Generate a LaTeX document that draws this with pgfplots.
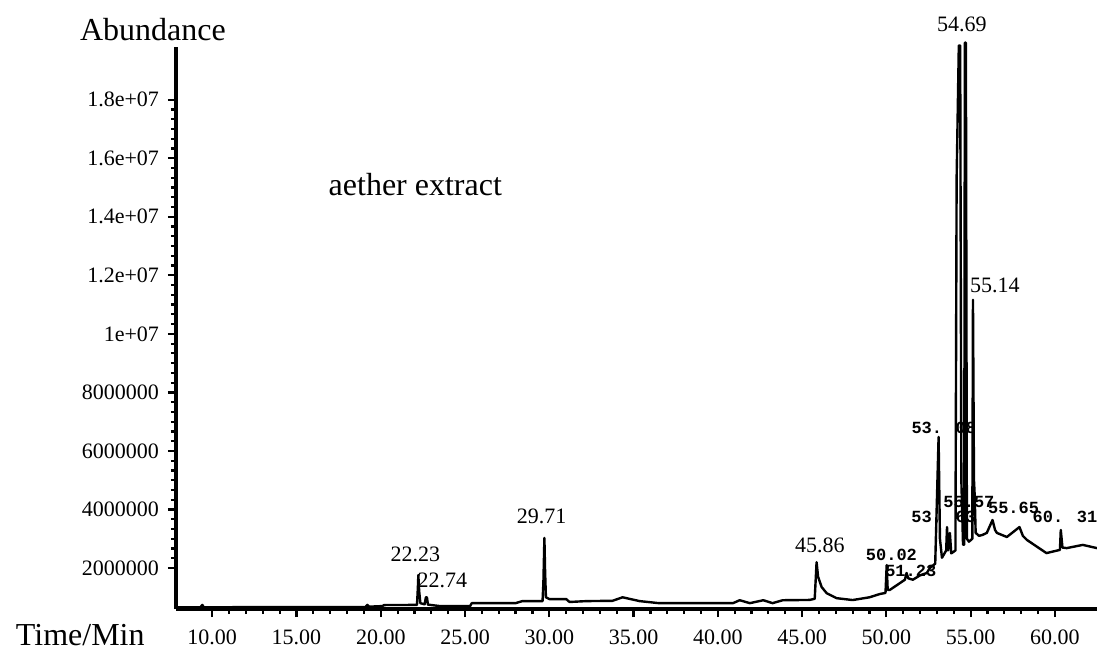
\documentclass[border=0pt]{standalone}
\usepackage{pgfplots}
\pgfplotsset{compat=1.18}
\usepackage{fontspec}
\setmainfont{Liberation Serif}
\newfontfamily\monofont{Liberation Mono}
\begin{document}
\begin{tikzpicture}
\begin{axis}[
  at={(0,0)}, anchor=south west,
  scale only axis, width=460.5pt, height=281pt,
  xmin=7.85, xmax=62.5, ymin=0.6e6, ymax=1.98e7,
  axis x line=bottom, axis y line=left,
  axis line style={line width=1.8pt, -},
  xtick={10,15,20,25,30,35,40,45,50,55,60},
  xticklabels={10.00,15.00,20.00,25.00,30.00,35.00,40.00,45.00,50.00,55.00,60.00},
  minor x tick num=4,
  scaled y ticks=false,
  ytick={2e6,4e6,6e6,8e6,1e7,1.2e7,1.4e7,1.6e7,1.8e7},
  yticklabels={2000000,4000000,6000000,8000000,1e+07,1.2e+07,1.4e+07,1.6e+07,1.8e+07},
  minor y tick num=5,
  tick align=outside,
  tick style={black, line width=1.1pt},
  major tick length=4pt, minor tick length=2.5pt,
  tick label style={font=\fontsize{11}{13}\selectfont},
  xticklabel style={yshift=-3pt},
  yticklabel style={xshift=-1pt},
  /pgf/number format/assume math mode=true,
  clip=false,
]
\addplot[black, line width=1.2pt, line join=round] coordinates {
(7.86,0.66e6) (9.3,0.66e6) (9.41,0.74e6) (9.5,0.66e6) (19.1,0.67e6) (19.2,0.74e6) (19.3,0.68e6)
(20.1,0.70e6) (20.2,0.735e6) (22.15,0.74e6) (22.2,1.3e6) (22.23,1.76e6) (22.28,1.2e6) (22.35,0.8e6)
(22.6,0.76e6) (22.68,1.0e6) (22.74,1.0e6) (22.8,0.75e6) (23.5,0.70e6) (25.3,0.70e6) (25.4,0.80e6)
(28.0,0.80e6) (28.4,0.87e6) (29.6,0.87e6) (29.65,1.5e6) (29.71,3.03e6) (29.75,1.9e6) (29.8,1.0e6)
(30.0,0.94e6) (31.0,0.94e6) (31.2,0.84e6) (32.2,0.87e6) (33.75,0.88e6) (34.35,1.0e6) (35.36,0.87e6)
(36.5,0.80e6) (40.9,0.80e6) (41.3,0.90e6) (41.9,0.80e6) (42.7,0.90e6) (43.25,0.80e6) (43.85,0.90e6)
(45.45,0.91e6) (45.75,0.95e6) (45.86,2.2e6) (45.95,1.7e6) (46.16,1.35e6) (46.46,1.14e6) (47.05,0.97e6)
(48.0,0.906e6) (49.0,1.0e6) (49.6,1.11e6) (49.95,1.15e6) (50.02,2.10e6) (50.08,1.25e6) (50.2,1.25e6)
(51.1,1.6e6) (51.2,1.83e6) (51.3,1.65e6) (51.57,1.6e6) (52.0,1.75e6) (52.4,1.83e6) (52.58,2.0e6)
(52.9,2.15e6) (53.0,4.32e6) (53.1,6.48e6) (53.18,3.0e6) (53.3,2.35e6) (53.55,2.6e6) (53.6,3.4e6)
(53.66,2.6e6) (53.77,3.2e6) (53.85,2.5e6) (54.1,2.6e6) (54.17,15.3e6) (54.3,19.85e6) (54.38,19.85e6)
(54.45,5e6) (54.55,2.8e6) (54.62,2.8e6) (54.66,19.95e6) (54.72,19.95e6) (54.78,3.0e6) (54.9,2.9e6)
(55.1,3.0e6) (55.14,11.16e6) (55.2,5.0e6) (55.24,4.5e6) (55.3,3.2e6) (55.5,3.1e6) (55.7,3.13e6)
(55.96,3.2e6) (56.3,3.64e6) (56.45,3.3e6) (56.56,3.2e6) (57.15,3.06e6) (57.9,3.4e6) (58.1,3.1e6)
(58.34,2.96e6) (59.5,2.51e6) (60.3,2.62e6) (60.35,3.3e6) (60.45,2.7e6) (60.7,2.68e6) (61.66,2.79e6)
(62.5,2.68e6)
};
\node[font=\fontsize{16}{18}\selectfont] at (axis cs:22.05,15.1e6) {aether extract};
\begin{scope}[every node/.style={font=\fontsize{11}{13}\selectfont, inner sep=0pt}]
\node at (axis cs:54.48,20.56e6) {54.69};
\node at (axis cs:56.44,11.67e6) {55.14};
\node at (axis cs:22.05,2.48e6) {22.23};
\node at (axis cs:23.66,1.59e6) {22.74};
\node at (axis cs:29.54,3.78e6) {29.71};
\node at (axis cs:46.05,2.79e6) {45.86};
\end{scope}
\begin{scope}[every node/.style={font=\monofont\bfseries\fontsize{8.5}{10}\selectfont, inner sep=0pt}]
\node at (axis cs:53.41,6.79e6) {53. 08};
\node at (axis cs:50.30,2.45e6) {50.02};
\node at (axis cs:51.45,1.90e6) {51.23};
\node at (axis cs:53.40,3.74e6) {53. 63};
\node at (axis cs:54.90,4.25e6) {55.57};
\node at (axis cs:57.55,4.05e6) {55.65};
\node at (axis cs:60.60,3.74e6) {60. 31};
\end{scope}
\end{axis}
\node[font=\fontsize{16}{18}\selectfont, anchor=east, inner sep=0pt] at (-15.5pt,-13pt) {Time/Min};
\node[font=\fontsize{16}{18}\selectfont, inner sep=0pt] at (-11.5pt,8.5pt+281pt) {Abundance};
\pgfresetboundingbox
\path (-88pt,-20.5pt) rectangle (460.5pt,304.5pt);
\end{tikzpicture}
\end{document}
